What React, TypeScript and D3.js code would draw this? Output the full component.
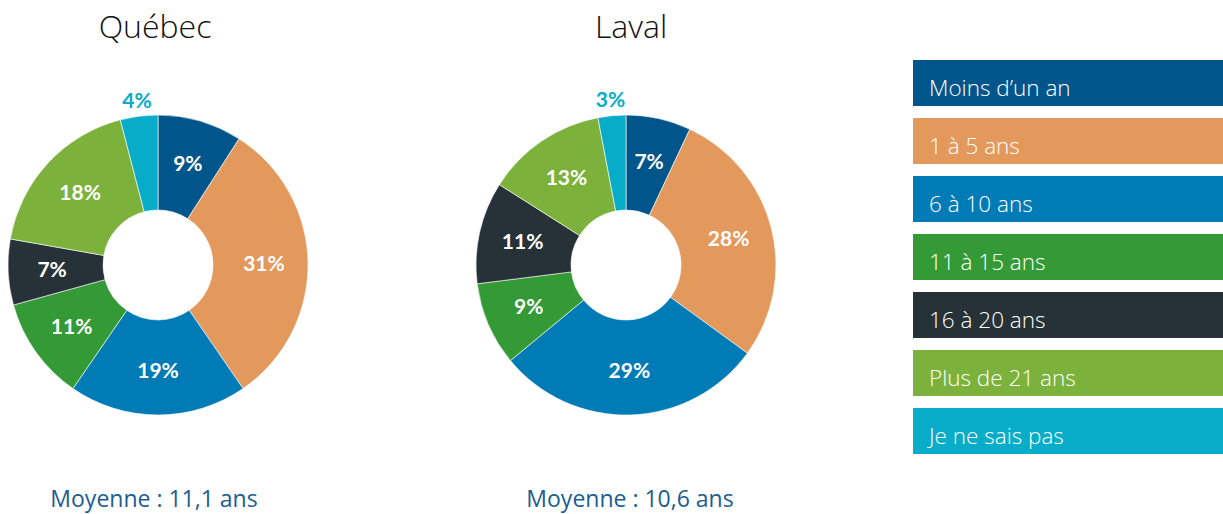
import React from "react";
import * as d3 from "d3";

const categories = ["Moins d’un an", "1 à 5 ans", "6 à 10 ans", "11 à 15 ans", "16 à 20 ans", "Plus de 21 ans", "Je ne sais pas"];
const colors = ["#00558B", "#E3985C", "#007BB6", "#349A36", "#263238", "#7CB23C", "#06ACC8"];
const quebecValues = [9, 31, 19, 11, 7, 18, 4];
const lavalValues = [7, 28, 29, 9, 11, 13, 3];
const titles = ["Québec", "Laval"];
const averages = ["Moyenne : 11,1 ans", "Moyenne : 10,6 ans"];

const W = 1223;
const H = 514;
const outerR = 150;
const innerR = 55;

function Donut({ cx, cy, tx, values, title, avg }: { cx: number; cy: number; tx: number; values: number[]; title: string; avg: string }) {
  const pie = d3.pie<number>().sort(null).value((d) => d);
  const arcs = pie(values);
  const arcGen = d3.arc<d3.PieArcDatum<number>>().innerRadius(innerR).outerRadius(outerR);
  const labelArc = d3.arc<d3.PieArcDatum<number>>().innerRadius(106).outerRadius(106);
  const outArc = d3.arc<d3.PieArcDatum<number>>().innerRadius(166).outerRadius(166);
  return (
    <g>
      <text x={tx + 1} y={38} textAnchor="middle" fontFamily="'Open Sans', sans-serif" fontWeight={300} fontSize={32} fill="#111">
        {title}
      </text>
      <g transform={`translate(${cx},${cy})`}>
        {arcs.map((a, i) => (
          <path key={i} d={arcGen(a) || ""} fill={colors[i]} stroke="#fff" strokeWidth={0.6} />
        ))}
        {arcs.map((a, i) => {
          const outside = a.data < 5;
          const [x, y] = outside ? outArc.centroid(a) : labelArc.centroid(a);
          return (
            <text
              key={"l" + i}
              x={x}
              y={y}
              dy="0.35em"
              textAnchor="middle"
              fontFamily="Lato, 'Open Sans', sans-serif"
              fontWeight={700}
              fontSize={21}
              fill={outside ? colors[i] : "#fff"}
            >
              {a.data}%
            </text>
          );
        })}
      </g>
      <text x={tx} y={507} textAnchor="middle" fontFamily="'Open Sans', sans-serif" fontSize={23} fill="#1B5E91">
        {avg}
      </text>
    </g>
  );
}

export default function App() {
  const legendY = d3
    .scaleBand<number>()
    .domain(d3.range(categories.length))
    .range([60, 60 + 58 * (categories.length - 1) + 46])
    .paddingInner(12 / 58);
  return (
    <svg width={W} height={H} style={{ position: "absolute", left: 0, top: 0, background: "#fff" }}>
      <Donut cx={158} cy={265} tx={154} values={quebecValues} title={titles[0]} avg={averages[0]} />
      <Donut cx={626} cy={265} tx={630} values={lavalValues} title={titles[1]} avg={averages[1]} />
      {categories.map((c, i) => (
        <g key={c}>
          <rect x={913} y={legendY(i)} width={W - 913} height={legendY.bandwidth()} fill={colors[i]} />
          <text x={929} y={(legendY(i) || 0) + 36} fontFamily="'Open Sans', sans-serif" fontWeight={300} fontSize={22.5} fill="#fff">
            {c}
          </text>
        </g>
      ))}
    </svg>
  );
}
